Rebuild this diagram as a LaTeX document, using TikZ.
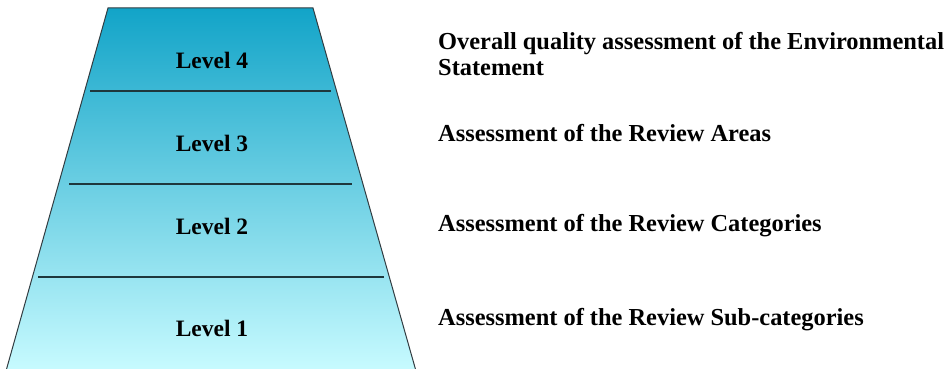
\documentclass[tikz,border=0pt]{standalone}
\usepackage{fontspec}
\setmainfont{Liberation Serif}
\definecolor{topc}{RGB}{18,164,200}
\definecolor{botc}{RGB}{200,251,255}
\definecolor{edgec}{RGB}{50,60,65}
\definecolor{divc}{RGB}{30,55,60}
\begin{document}
\begin{tikzpicture}[x=1pt,y=-1pt,
  lvl/.style={font=\fontsize{23.5}{26}\selectfont\bfseries, inner sep=0pt},
  desc/.style={font=\fontsize{24.4}{26.5}\selectfont\bfseries, inner sep=0pt, anchor=west, align=left},
  divider/.style={draw=divc, line width=1.4pt}]
\useasboundingbox (0,0) rectangle (950,369);
\coordinate (tl) at (108,8);
\coordinate (tr) at (313,8);
\coordinate (br) at (416,371);
\coordinate (bl) at (6,371);
\shade[top color=topc, bottom color=botc] (tl) -- (tr) -- (br) -- (bl) -- cycle;
\draw[edgec, line width=1pt] (bl) -- (tl) -- (tr) -- (br);
\coordinate (d1a) at (90,91);  \coordinate (d1b) at (331,91);
\coordinate (d2a) at (69,184); \coordinate (d2b) at (352,184);
\coordinate (d3a) at (38,277); \coordinate (d3b) at (384,277);
\draw[divider] (d1a) -- (d1b);
\draw[divider] (d2a) -- (d2b);
\draw[divider] (d3a) -- (d3b);
\node[lvl] (l4) at (212,60) {Level 4};
\node[lvl] (l3) at (212,143) {Level 3};
\node[lvl] (l2) at (212,226) {Level 2};
\node[lvl] (l1) at (212,328) {Level 1};
\node[desc] (t4) at (438,54) {Overall quality assessment of the Environmental\\Statement};
\node[desc] (t3) at (438,133) {Assessment of the Review Areas};
\node[desc] (t2) at (438,226) {Assessment of the Review Categories};
\node[desc] (t1) at (438,320) {Assessment of the Review Sub-categories};
\end{tikzpicture}
\end{document}
